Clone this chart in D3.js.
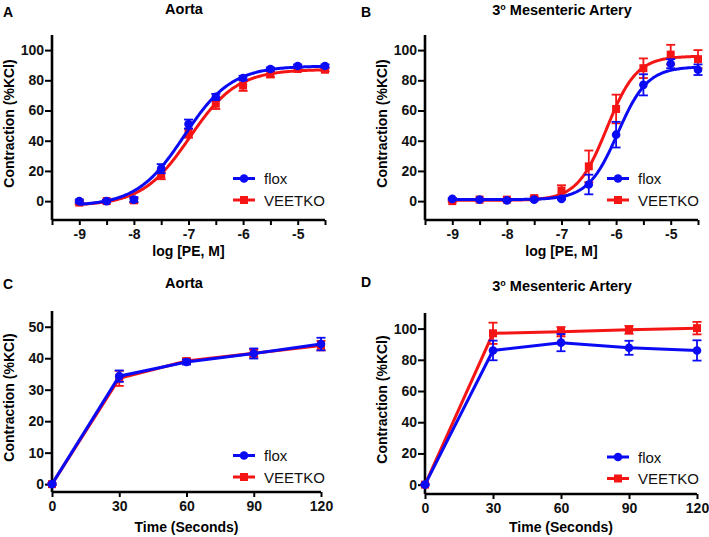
<!DOCTYPE html>
<html>
<head>
<meta charset="utf-8">
<script src="https://cdn.jsdelivr.net/npm/d3@7"></script>
<style>
  body { margin: 0; background: #fff; }
  svg { display: block; font-family: "Liberation Sans", Arial, sans-serif; }
</style>
</head>
<body>
<script>
// log [PE, M] concentrations (panels A, B)
const doses = [-9, -8.5, -8, -7.5, -7, -6.5, -6, -5.5, -5, -4.5];
// time points (panels C, D)
const times = [0, 30, 60, 90, 120];

// A: Aorta, concentration response
const aFlox = [0, 0, 1, 21.5, 51, 69, 81.5, 87.5, 89.5, 89.5];
const aFloxErr = [1, 0.8, 1.5, 3, 3, 2, 1.5, 1, 1, 1];
const aVeetko = [-1, 0, 0.5, 17.5, 45, 64.5, 76.5, 84, 87.5, 87];
const aVeetkoErr = [1, 0.8, 1.5, 3, 3, 3.5, 3.5, 2, 1, 1];
// fit: bottom, top, logEC50, hill
const aFloxFit = [-3.2, 89.5, -7.08, 1.0];
const aVeetkoFit = [-3.0, 87.2, -6.98, 1.0];

// B: 3rd order mesenteric artery, concentration response
const bFlox = [1.5, 1, 0.5, 1, 1.5, 11, 44, 77, 91, 87];
const bFloxErr = [0.5, 0.5, 0.5, 0.5, 0.5, 6.5, 8.5, 7, 3, 3.5];
const bVeetko = [0, 1, 1, 2, 7, 23, 61, 88, 97, 94];
const bVeetkoErr = [0.5, 0.5, 0.5, 1, 3.5, 10.5, 9.5, 6.5, 6.5, 6];
const bFloxFit = [1, 89, -5.97, 1.6];
const bVeetkoFit = [0.5, 96, -6.17, 1.6];

// C: Aorta, time course
const cFlox = [0, 34.3, 38.8, 41.5, 44.5];
const cFloxErr = [0.3, 1.8, 0.8, 1.6, 2];
const cVeetko = [0, 33.6, 39.1, 41.6, 44];
const cVeetkoErr = [0.3, 2.4, 0.8, 1.2, 1.5];

// D: 3rd order mesenteric artery, time course
const dFlox = [0, 86, 91, 87.7, 86];
const dFloxErr = [0.5, 6.3, 5.5, 4.5, 6.5];
const dVeetko = [0, 97, 98, 99.2, 100.3];
const dVeetkoErr = [0.5, 6.8, 3, 2.5, 4];

const seriesNames = ["flox", "VEETKO"];
const blue = "#0a0af5", red = "#f51515";

const width = 709, height = 537;
const svg = d3.select("body").append("svg")
  .attr("width", width).attr("height", height)
  .attr("viewBox", [0, 0, width, height]);

function logistic(p) {
  return x => p[0] + (p[1] - p[0]) / (1 + Math.pow(10, (p[2] - x) * p[3]));
}

function panel(o) {
  const g = svg.append("g");
  const x = d3.scaleLinear().domain(o.xDomain).range(o.xRange);
  const y = d3.scaleLinear().domain(o.yDomain).range(o.yRange);

  // axes
  g.append("g")
    .attr("transform", `translate(0,${o.yRange[0]})`)
    .call(d3.axisBottom(x).tickValues(o.xTicks).tickSize(5).tickPadding(4)
      .tickFormat(d => o.xLabels.includes(d) ? (d < 0 ? "-" + Math.abs(d) : d) : ""))
    .call(a => a.select(".domain").attr("stroke-width", 2.6).attr("d", `M${o.xRange[0]},0H${o.xRange[1]}`))
    .call(a => a.selectAll(".tick line").attr("stroke-width", 2))
    .call(a => a.selectAll("text").attr("font-size", 14).attr("font-weight", "bold").attr("fill", "#111"));

  g.append("g")
    .attr("transform", `translate(${o.xRange[0]},0)`)
    .call(d3.axisLeft(y).tickValues(o.yTicks).tickSize(7).tickPadding(1))
    .call(a => a.select(".domain").attr("stroke-width", 2.6).attr("d", `M0,${o.yRange[0]}V${o.yRange[1]}`))
    .call(a => a.selectAll(".tick line").attr("stroke-width", 2))
    .call(a => a.selectAll("text").attr("font-size", 14).attr("font-weight", "bold").attr("fill", "#111"));

  // labels
  g.append("text").attr("x", o.letterX).attr("y", o.letterY)
    .attr("font-size", 14).attr("font-weight", "bold").text(o.letter);
  const t = g.append("text").attr("x", o.titleX).attr("y", o.titleY)
    .attr("text-anchor", "middle").attr("font-size", 14.5).attr("font-weight", "bold");
  if (o.title === "mes") {
    t.append("tspan").text("3");
    t.append("tspan").attr("font-size", 9).attr("dy", -5).text("o");
    t.append("tspan").attr("dy", 5).text(" Mesenteric Artery");
  } else {
    t.text(o.title);
  }
  g.append("text")
    .attr("transform", `translate(${o.xRange[0] - 38.5},${(o.yRange[0] + o.yRange[1]) / 2 - 4}) rotate(-90)`)
    .attr("text-anchor", "middle").attr("font-size", 14).attr("font-weight", "bold")
    .text("Contraction (%KCl)");
  g.append("text").attr("x", (o.xRange[0] + o.xRange[1]) / 2).attr("y", o.yRange[0] + o.xTitleOff)
    .attr("text-anchor", "middle").attr("font-size", 14).attr("font-weight", "bold")
    .text(o.xTitle);

  const series = [
    { name: seriesNames[1], xs: o.xs, ys: o.red, err: o.redErr, fit: o.redFit, color: red, shape: "square" },
    { name: seriesNames[0], xs: o.xs, ys: o.blue, err: o.blueErr, fit: o.blueFit, color: blue, shape: "circle" }
  ];

  series.forEach(s => {
    const pts = s.xs.map((d, i) => ({ x: d, y: s.ys[i], e: s.err[i] }));
    // line: fitted curve or point-to-point
    if (s.fit) {
      const f = logistic(s.fit);
      const xs = d3.range(s.xs[0], s.xs[s.xs.length - 1] + 0.0001, 0.02);
      g.append("path").datum(xs)
        .attr("fill", "none").attr("stroke", s.color).attr("stroke-width", 3)
        .attr("d", d3.line().x(d => x(d)).y(d => y(f(d))));
    } else {
      g.append("path").datum(pts)
        .attr("fill", "none").attr("stroke", s.color).attr("stroke-width", 3)
        .attr("d", d3.line().x(d => x(d.x)).y(d => y(d.y)));
    }
    // error bars
    const eb = g.append("g").attr("stroke", s.color).attr("stroke-width", 1.8);
    pts.forEach(p => {
      eb.append("line").attr("x1", x(p.x)).attr("x2", x(p.x)).attr("y1", y(p.y - p.e)).attr("y2", y(p.y + p.e));
      [p.y - p.e, p.y + p.e].forEach(v => eb.append("line")
        .attr("x1", x(p.x) - 4.5).attr("x2", x(p.x) + 4.5).attr("y1", y(v)).attr("y2", y(v)));
    });
    // markers
    pts.forEach(p => marker(g, s.shape, x(p.x), y(p.y), s.color));
  });

  // legend
  [series[1], series[0]].forEach((s, i) => {
    const ly = o.legendY + i * 21.5;
    g.append("line").attr("x1", o.legendX).attr("x2", o.legendX + 22)
      .attr("y1", ly).attr("y2", ly).attr("stroke", s.color).attr("stroke-width", 3);
    marker(g, s.shape, o.legendX + 11, ly, s.color);
    g.append("text").attr("x", o.legendX + 31).attr("y", ly + 5.5)
      .attr("font-size", 15).attr("fill", "#111").text(s.name);
  });
}

function marker(g, shape, cx, cy, color) {
  if (shape === "circle") {
    g.append("circle").attr("cx", cx).attr("cy", cy).attr("r", 4.3).attr("fill", color);
  } else {
    g.append("rect").attr("x", cx - 4).attr("y", cy - 4).attr("width", 8).attr("height", 8).attr("fill", color);
  }
}

panel({
  letter: "A", letterX: 3, letterY: 16.5, title: "Aorta", titleX: 184, titleY: 13.5,
  xDomain: [-9.5, -4.5], xRange: [52, 325], yDomain: [-12.5, 110], yRange: [220, 35],
  xTicks: doses.concat([-9.5]), xLabels: [-9, -8, -7, -6, -5], yTicks: [0, 20, 40, 60, 80, 100],
  xTitle: "log [PE, M]", xTitleOff: 36, xs: doses,
  blue: aFlox, blueErr: aFloxErr, blueFit: aFloxFit,
  red: aVeetko, redErr: aVeetkoErr, redFit: aVeetkoFit,
  legendX: 233, legendY: 178.5
});

panel({
  letter: "B", letterX: 361, letterY: 16.5, title: "mes", titleX: 562, titleY: 14.5,
  xDomain: [-9.5, -4.5], xRange: [425, 698], yDomain: [-12.5, 110], yRange: [220, 35],
  xTicks: doses.concat([-9.5]), xLabels: [-9, -8, -7, -6, -5], yTicks: [0, 20, 40, 60, 80, 100],
  xTitle: "log [PE, M]", xTitleOff: 36, xs: doses,
  blue: bFlox, blueErr: bFloxErr, blueFit: bFloxFit,
  red: bVeetko, redErr: bVeetkoErr, redFit: bVeetkoFit,
  legendX: 607, legendY: 178.5
});

panel({
  letter: "C", letterX: 3, letterY: 288.5, title: "Aorta", titleX: 184, titleY: 288,
  xDomain: [0, 120], xRange: [52, 321], yDomain: [-2.5, 55], yRange: [492, 311],
  xTicks: times, xLabels: times, yTicks: [0, 10, 20, 30, 40, 50],
  xTitle: "Time (Seconds)", xTitleOff: 40, xs: times,
  blue: cFlox, blueErr: cFloxErr, blueFit: null,
  red: cVeetko, redErr: cVeetkoErr, redFit: null,
  legendX: 233, legendY: 455.5
});

panel({
  letter: "D", letterX: 361, letterY: 286.5, title: "mes", titleX: 562, titleY: 290.5,
  xDomain: [0, 120], xRange: [425, 697], yDomain: [-6, 110], yRange: [494, 313],
  xTicks: times, xLabels: times, yTicks: [0, 20, 40, 60, 80, 100],
  xTitle: "Time (Seconds)", xTitleOff: 38, xs: times,
  blue: dFlox, blueErr: dFloxErr, blueFit: null,
  red: dVeetko, redErr: dVeetkoErr, redFit: null,
  legendX: 607, legendY: 457
});
</script>
</body>
</html>
